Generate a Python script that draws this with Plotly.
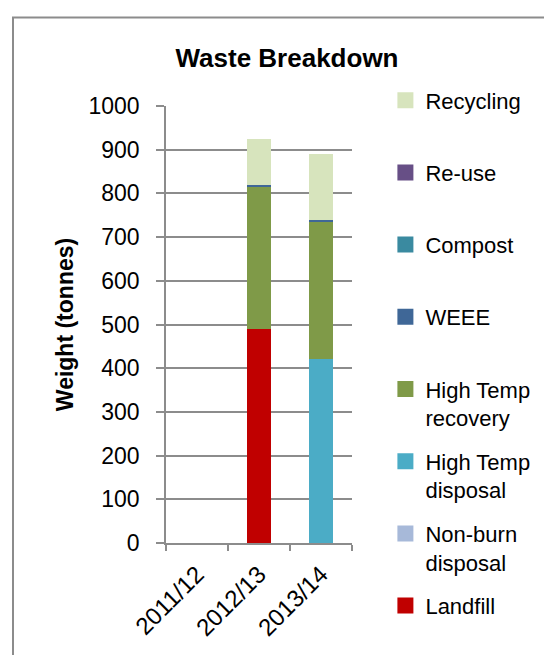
import plotly.graph_objects as go

categories = ["2011/12", "2012/13", "2013/14"]
landfill = [0, 489, 0]
non_burn_disposal = [0, 0, 0]
high_temp_disposal = [0, 0, 421]
high_temp_recovery = [0, 327, 313]
weee = [0, 4, 5]
compost = [0, 0, 0]
re_use = [0, 0, 0]
recycling = [0, 105, 152]

series = [
    ("Landfill", landfill, "#C00000"),
    ("Non-burn<br>disposal", non_burn_disposal, "#A7B9D9"),
    ("High Temp<br>disposal", high_temp_disposal, "#4BACC6"),
    ("High Temp<br>recovery", high_temp_recovery, "#7F9A48"),
    ("WEEE", weee, "#3F6797"),
    ("Compost", compost, "#3A8AA0"),
    ("Re-use", re_use, "#674F86"),
    ("Recycling", recycling, "#D7E4BD"),
]

# page has an 8px body margin; figure is sized to fit the 552x655 window
W, H = 544, 647
ML, MR, MT, MB = 158, 200, 98, 112
pw = W - ML - MR
ph = H - MT - MB

FONT = "Liberation Sans"
GRAY = "#8c8c8c"

fig = go.Figure()
for name, vals, col in series:
    fig.add_trace(go.Bar(x=categories, y=vals, name=name.replace("<br>", " "),
                         marker=dict(color=col, line=dict(width=0)),
                         showlegend=False))

# legend entries (top to bottom)
for name, vals, col in reversed(series):
    label = name if ("<br>" in name or name == "Landfill") else name + "<br>\u00a0"
    fig.add_trace(go.Scatter(x=[None], y=[None], mode="markers", name=label,
                             legendgroup=name,
                             marker=dict(symbol="square", size=16, color=col),
                             showlegend=True, hoverinfo="skip"))

def px_to_paper_x(px):
    return (px - ML) / pw

def px_to_paper_y(py):
    return (H - MB - py) / ph

bx = px_to_paper_x(5)
by = px_to_paper_y(9.5)
fig.add_shape(type="path", xref="paper", yref="paper",
              path=f"M {bx} {px_to_paper_y(H + 20)} L {bx} {by} L {px_to_paper_x(W + 20)} {by}",
              line=dict(color=GRAY, width=2))

fig.update_layout(
    width=W, height=H,
    margin=dict(l=ML, r=MR, t=MT, b=MB, autoexpand=False),
    paper_bgcolor="white", plot_bgcolor="white",
    barmode="stack", bargap=0.6,
    font=dict(family=FONT, size=22, color="#000000"),
    title=dict(text="<b>Waste Breakdown</b>", x=279 / W, xref="container",
               y=1 - 50 / H, yref="container", xanchor="center", yanchor="middle",
               font=dict(family=FONT, size=26, color="#000000")),
    legend=dict(x=px_to_paper_x(377.4), xanchor="left",
                y=px_to_paper_y(71.4), yanchor="top", maxheight=620,
                traceorder="grouped", tracegroupgap=12, valign="top",
                font=dict(family=FONT, size=22, color="#000000"),
                bgcolor="rgba(0,0,0,0)"),
    showlegend=True,
)
fig.update_xaxes(type="category", showline=True, linecolor=GRAY, linewidth=1.5,
                 ticks="outside", tickson="boundaries", ticklen=6, tickcolor=GRAY,
                 tickwidth=1.5, tickangle=-45, showgrid=False,
                 tickfont=dict(family=FONT, size=24), ticklabelstandoff=6)
fig.update_yaxes(range=[0, 1000], dtick=100, showline=True, linecolor=GRAY, linewidth=1.5,
                 ticks="outside", ticklen=8, tickcolor=GRAY, tickwidth=1.5,
                 showgrid=True, gridcolor=GRAY, gridwidth=1.5, zeroline=False,
                 tickfont=dict(family=FONT, size=23), ticklabelstandoff=12,
                 title=dict(text="<b>Weight (tonnes)</b>", standoff=8,
                            font=dict(family=FONT, size=23)))

fig.write_html("out.html")
